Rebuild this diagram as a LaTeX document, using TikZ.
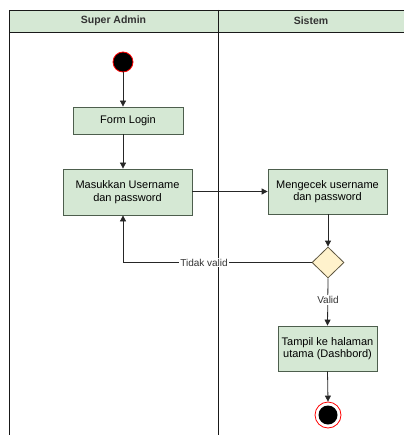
\documentclass[tikz,border=0pt]{standalone}
\usepackage{fontspec}
\setmainfont{Liberation Sans}
\usetikzlibrary{shapes.geometric,arrows.meta}
\definecolor{boxfill}{HTML}{D5E8D4}
\definecolor{boxline}{HTML}{4D5E4D}
\definecolor{decfill}{HTML}{FFF2CC}
\definecolor{decline}{HTML}{5E5640}
\tikzset{
  actbox/.style={draw=boxline, fill=boxfill, line width=0.8pt, align=center, font=\fontsize{11}{12.5}\selectfont, inner sep=0pt},
  flow/.style={draw=black!85, line width=0.8pt, -{Triangle[length=6pt,width=6pt]}},
  plain/.style={draw=black!85, line width=0.8pt},
  lbl/.style={fill=white, inner sep=1pt, font=\fontsize{10}{12}\selectfont, text=black!80},
}
\begin{document}
\begin{tikzpicture}[x=1pt,y=-1pt]
\useasboundingbox (0,0) rectangle (404,435);
% swimlanes
\path[fill=boxfill] (9,10) rectangle (404,32);
\draw[line width=0.9pt, black!90] (404,10) -- (9,10) -- (9,435);
\draw[line width=0.9pt, black!90] (9,32) -- (404,32);
\draw[line width=0.9pt, black!90] (218,10) -- (218,435);
\node[font=\bfseries\fontsize{10.5}{12}\selectfont, text=black!80] (h1) at (113.5,21) {Super Admin};
\node[font=\bfseries\fontsize{10.5}{12}\selectfont, text=black!80] (h2) at (311,21) {Sistem};
% nodes
\node[circle, fill=black, draw=red, line width=0.8pt, minimum size=20pt, inner sep=0pt] (start) at (123,62) {};
\node[actbox, minimum width=110pt, minimum height=27pt] (form) at (128,120.5) {Form Login};
\node[actbox, minimum width=129pt, minimum height=46pt] (masuk) at (127.5,192) {Masukkan Username\\dan password};
\node[actbox, minimum width=119pt, minimum height=45pt] (cek) at (327.5,191.5) {Mengecek username\\dan password};
\node[diamond, draw=decline, fill=decfill, line width=0.8pt, minimum width=32pt, minimum height=31pt, inner sep=0pt] (dec) at (328,262.5) {};
\node[actbox, minimum width=99pt, minimum height=45pt] (tampil) at (327.5,348.5) {Tampil ke halaman\\utama (Dashbord)};
\node[circle, draw=red, fill=white, line width=0.8pt, minimum size=26pt, inner sep=0pt] (end) at (328,415) {};
\node[circle, fill=black, minimum size=19pt, inner sep=0pt] (endin) at (end.center) {};
% connectors
\draw[flow] (start) -- (start |- form.north);
\draw[flow] (form.south -| start) -- (start |- masuk.north);
\draw[flow] (masuk.east |- cek.west) -- (cek.west);
\draw[flow] (cek.south -| dec) -- (dec.north);
\coordinate (corner) at (123,262.5);
\draw[plain] (dec.west) -- (corner);
\draw[flow] (corner) -- (corner |- masuk.south);
\node[lbl] (tv) at (204,262.5) {Tidak valid};
\draw[flow] (dec.south) -- (tampil.north);
\node[lbl] (v) at (328,300) {Valid};
\draw[flow] (tampil.south) -- (end.north);
\end{tikzpicture}
\end{document}
